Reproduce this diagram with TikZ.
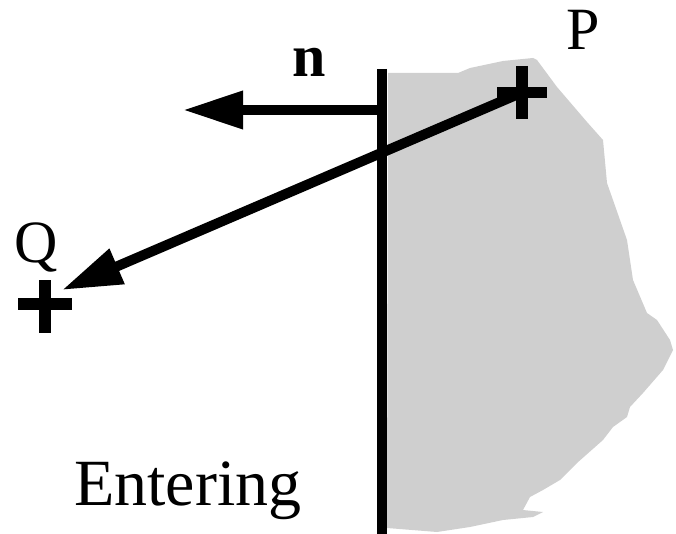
\documentclass[tikz,border=0pt]{standalone}
\usepackage{fontspec}
\setmainfont{Liberation Serif}
\usetikzlibrary{arrows.meta,calc}
\begin{document}
\begin{tikzpicture}[x=1pt,y=-1pt,
  thick line/.style={line width=10pt},
  bigarrow/.style={thick line,-{Triangle[length=60pt,width=36pt]}},
  crossarm/.style={line width=11.5pt,line cap=butt},
  lbl/.style={anchor=base west,inner sep=0pt,font=\fontsize{60}{70}\selectfont}]
\useasboundingbox (0,0) rectangle (676,534);
% shaded region
\fill[gray!38] (388,73) -- (458,73) -- (470,68) -- (503,61) -- (533,58) -- (537,60)
  -- (557,87) -- (587,122) -- (603,140) -- (607,183) -- (613,200) -- (620,220)
  -- (627,240) -- (633,280) -- (647,313) -- (657,320) -- (670,340) -- (673,350)
  -- (663,370) -- (643,393) -- (630,407) -- (627,417) -- (613,427) -- (603,440)
  -- (577,463) -- (560,480) -- (543,490) -- (530,497) -- (523,510) -- (543,512)
  -- (533,517) -- (503,520) -- (470,527) -- (437,532) -- (387,528) -- cycle;
% wall
\coordinate (wtop) at (382,69);
\coordinate (wbot) at (382,534);
\draw[thick line] (wtop) -- (wbot);
% normal
\coordinate (nstart) at (382,110);
\coordinate (ntip) at (183,110);
\draw[bigarrow] (nstart) -- (ntip);
\node[lbl,font=\fontsize{60}{70}\selectfont\bfseries] (n) at (292,77) {n};
% points
\coordinate (P) at (522,92.5);
\coordinate (Q) at (45,304);
\coordinate (Qtip) at (62,290);
\draw[bigarrow] (P) -- (Qtip);
\draw[crossarm] ($(P)+(-25,0)$) -- ($(P)+(25,0)$);
\draw[crossarm] ($(P)+(0,-26.5)$) -- ($(P)+(0,26.5)$);
\draw[crossarm] ($(Q)+(-27,0)$) -- ($(Q)+(27,0)$);
\draw[crossarm] ($(Q)+(0,-24)$) -- ($(Q)+(0,29)$);
\node[lbl] (Plbl) at (566,50) {P};
\node[lbl] (Qlbl) at (14,262) {Q};
\node[lbl,font=\fontsize{66}{76}\selectfont] (ent) at (74,505) {Entering};
\end{tikzpicture}
\end{document}
